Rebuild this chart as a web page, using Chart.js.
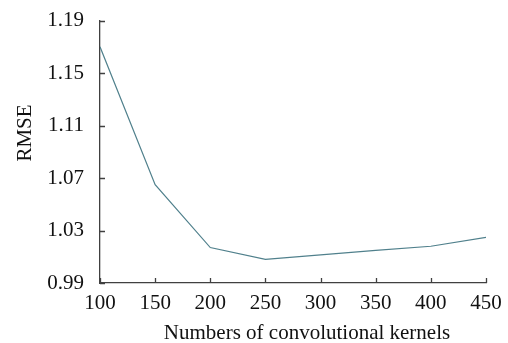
<!DOCTYPE html>
<html>
<head>
<meta charset="utf-8">
<script src="https://cdn.jsdelivr.net/npm/chart.js@4/dist/chart.umd.min.js"></script>
<style>
  html, body { margin: 0; padding: 0; background: #fff; }
  #wrap { width: 508px; height: 343px; }
</style>
</head>
<body>
<div id="wrap"><canvas id="chart"></canvas></div>
<script>
// data
const kernelCounts = [100, 150, 200, 250, 300, 350, 400, 450];
const rmseValues = [1.170, 1.065, 1.017, 1.008, 1.0115, 1.0148, 1.018, 1.0248];

const xTitle = "Numbers of convolutional kernels";
const yTitle = "RMSE";

const axisColor = "#404040";
const lineColor = "#50808c";
const font = "'Liberation Serif', 'Times New Roman', serif";

// short tick marks pointing into the plot, plus axis titles
const axisExtras = {
  id: "axisExtras",
  afterDraw(chart) {
    const { ctx, chartArea, scales } = chart;
    ctx.save();
    ctx.strokeStyle = axisColor;
    ctx.lineWidth = 1.3;
    ctx.beginPath();
    scales.x.ticks.forEach((t, i) => {
      const px = Math.round(scales.x.getPixelForTick(i)) + 0.5;
      ctx.moveTo(px, chartArea.bottom);
      ctx.lineTo(px, chartArea.bottom - 5);
    });
    scales.y.ticks.forEach((t, i) => {
      const py = Math.round(scales.y.getPixelForTick(i)) + 0.5;
      ctx.moveTo(chartArea.left, py);
      ctx.lineTo(chartArea.left + 5, py);
    });
    ctx.stroke();

    ctx.fillStyle = "#111";
    ctx.font = "21px " + font;
    ctx.textAlign = "center";
    ctx.textBaseline = "middle";
    ctx.fillText(xTitle, 307, 333);

    ctx.translate(25, 133);
    ctx.rotate(-Math.PI / 2);
    ctx.fillText(yTitle, 0, 0);
    ctx.restore();
  }
};

new Chart(document.getElementById("chart"), {
  type: "line",
  data: {
    datasets: [{
      data: kernelCounts.map((k, i) => ({ x: k, y: rmseValues[i] })),
      borderColor: lineColor,
      borderWidth: 1.2,
      pointRadius: 0,
      tension: 0,
      fill: false
    }]
  },
  options: {
    responsive: true,
    maintainAspectRatio: false,
    animation: false,
    layout: { padding: { top: 14, right: 22, left: 0, bottom: 0 } },
    plugins: { legend: { display: false }, tooltip: { enabled: false } },
    scales: {
      x: {
        type: "linear",
        min: 100,
        max: 450,
        ticks: { stepSize: 50, color: "#111", padding: 0, font: { family: font, size: 21 }, maxRotation: 0 },
        grid: { display: false },
        border: { display: true, color: axisColor, width: 1.3 },
        afterFit: (s) => { s.height = 60; }
      },
      y: {
        min: 0.99,
        max: 1.19,
        ticks: {
          stepSize: 0.02,
          color: "#111",
          padding: 8,
          font: { family: font, size: 21 },
          callback: (v, i) => (i % 2 === 0 ? v.toFixed(2) : "")
        },
        grid: { display: false },
        border: { display: true, color: axisColor, width: 1.3 },
        afterFit: (s) => { s.width = 100; }
      }
    }
  },
  plugins: [axisExtras]
});
</script>
</body>
</html>
